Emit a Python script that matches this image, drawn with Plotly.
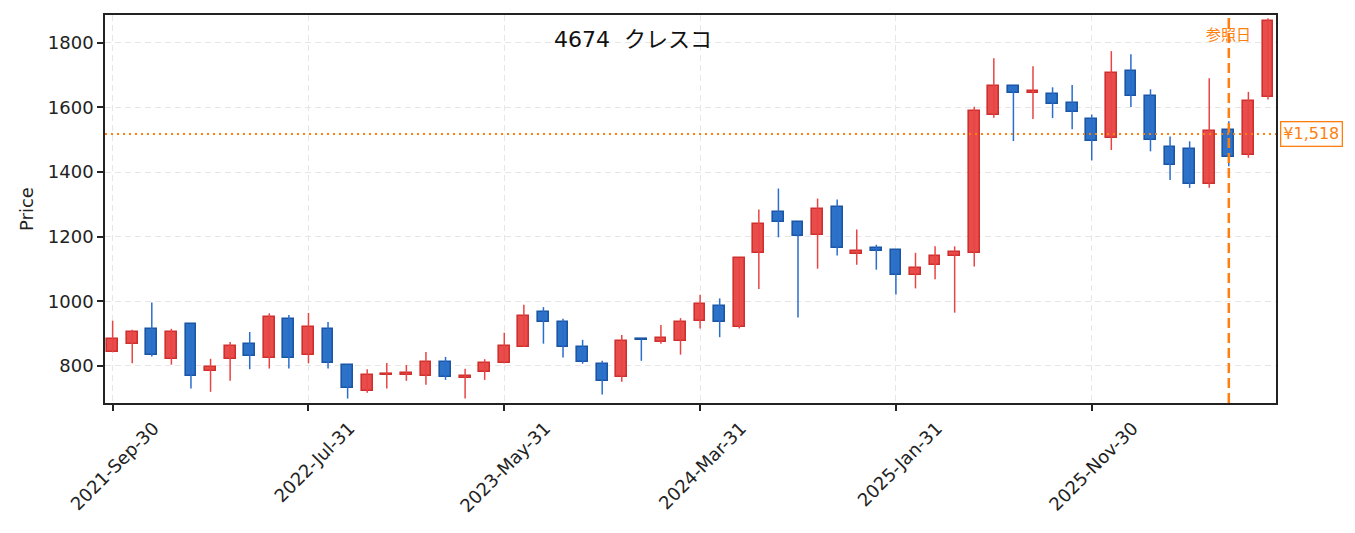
import pandas as pd
import plotly.graph_objects as go

# ---- data ----
dates = [d.strftime("%Y-%b-%d") for d in pd.date_range("2021-09-30", periods=60, freq="ME")]
opens = [843, 867, 914, 822, 929, 785, 822, 867, 825, 944,
         834, 913, 804, 722, 771, 772, 769, 813, 762, 781,
         808, 859, 968, 937, 860, 807, 765, 883, 873, 876,
         939, 987, 922, 1148, 1276, 1244, 1205, 1291, 1147, 1164,
         1158, 1082, 1113, 1141, 1150, 1576, 1667, 1645, 1642, 1615,
         1565, 1504, 1712, 1636, 1477, 1472, 1364, 1529, 1454, 1632]
highs = [940, 912, 996, 915, 929, 822, 874, 905, 963, 958,
         964, 936, 804, 790, 809, 803, 843, 828, 791, 821,
         903, 989, 982, 946, 881, 816, 896, 883, 927, 948,
         1020, 1009, 1133, 1284, 1349, 1244, 1318, 1315, 1222, 1175,
         1158, 1150, 1170, 1170, 1602, 1752, 1667, 1727, 1662, 1669,
         1578, 1774, 1764, 1656, 1510, 1495, 1690, 1557, 1648, 1876]
lows = [842, 808, 829, 804, 730, 720, 754, 790, 792, 792,
        808, 792, 699, 717, 730, 754, 742, 757, 699, 757,
        808, 859, 869, 826, 807, 712, 751, 816, 869, 835,
        916, 889, 916, 1038, 1198, 950, 1101, 1142, 1113, 1098,
        1021, 1040, 1068, 965, 1108, 1568, 1496, 1564, 1567, 1532,
        1436, 1468, 1601, 1464, 1375, 1351, 1351, 1418, 1444, 1624]
closes = [883, 904, 833, 906, 769, 796, 863, 831, 953, 825,
          919, 810, 732, 773, 775, 777, 813, 766, 770, 810,
          863, 956, 935, 859, 812, 753, 878, 880, 885, 937,
          991, 936, 1133, 1239, 1244, 1203, 1285, 1166, 1156, 1156,
          1082, 1103, 1139, 1152, 1589, 1667, 1646, 1650, 1611, 1587,
          1497, 1706, 1634, 1500, 1423, 1364, 1526, 1445, 1619, 1868]
tick_dates = dates[::10]
y_ticks = [800, 1000, 1200, 1400, 1600, 1800]
ref_price = 1518
ref_date = dates[57]
title_text = "4674\u00a0\u00a0クレスコ"
ref_label = "参照日"
price_label = "¥1,518"

# ---- styles ----
UP_FILL, UP_EDGE, UP_WICK = "#e84d4b", "#cf302e", "#e84444"
DN_FILL, DN_EDGE, DN_WICK = "#2c73c8", "#1b55a6", "#2a6dcc"
ORANGE = "#ff7f0e"
FONT = "DejaVu Sans, Noto Sans CJK JP"

up = [i for i in range(len(dates)) if closes[i] >= opens[i]]
dn = [i for i in range(len(dates)) if closes[i] < opens[i]]

def wick_xy(idx):
    xs, ys = [], []
    for i in idx:
        xs += [dates[i], dates[i], None]
        ys += [lows[i], highs[i], None]
    return xs, ys

fig = go.Figure()
for idx, wc in ((up, UP_WICK), (dn, DN_WICK)):
    wx, wy = wick_xy(idx)
    fig.add_trace(go.Scatter(x=wx, y=wy, mode="lines", line=dict(color=wc, width=1.5),
                             hoverinfo="skip", showlegend=False))
for idx, fc, ec in ((up, UP_FILL, UP_EDGE), (dn, DN_FILL, DN_EDGE)):
    fig.add_trace(go.Bar(
        x=[dates[i] for i in idx],
        y=[abs(closes[i] - opens[i]) for i in idx],
        base=[min(opens[i], closes[i]) for i in idx],
        width=0.55,
        marker=dict(color=fc, line=dict(color=ec, width=1.6)),
        showlegend=False))

fig.add_shape(type="line", xref="paper", x0=0, x1=1, yref="y", y0=ref_price, y1=ref_price,
              line=dict(color=ORANGE, width=2, dash="2px,4px"), layer="above")
fig.add_shape(type="line", xref="x", x0=ref_date, x1=ref_date, yref="paper", y0=0, y1=1,
              line=dict(color=ORANGE, width=2.5, dash="10px,5px"), layer="above")

fig.add_annotation(text=title_text, xref="paper", yref="paper", x=0.451, y=0.936,
                   showarrow=False, font=dict(family=FONT, size=22, color="#111"),
                   xanchor="center", yanchor="middle")
fig.add_annotation(text=ref_label, xref="x", yref="paper", x=ref_date, y=0.948,
                   showarrow=False, font=dict(family=FONT, size=15, color=ORANGE),
                   xanchor="center", yanchor="middle")
fig.add_annotation(text=price_label, xref="paper", yref="y", x=1, y=ref_price, xshift=4,
                   showarrow=False, font=dict(family=FONT, size=16, color=ORANGE),
                   xanchor="left", yanchor="middle", bgcolor="white",
                   bordercolor=ORANGE, borderwidth=1.3, borderpad=2)

axis_common = dict(showline=True, mirror=True, linecolor="#222", linewidth=1.5,
                   ticks="outside", ticklen=6, tickwidth=1.5, tickcolor="#222",
                   showgrid=True, gridcolor="#e6e6e6", gridwidth=1.3, griddash="6px,4px",
                   zeroline=False, tickfont=dict(family=FONT, size=18, color="#222"))

fig.update_layout(
    width=1355, height=533,
    margin=dict(l=105, r=79, t=15, b=130),
    paper_bgcolor="white", plot_bgcolor="white",
    barmode="overlay", bargap=0,
    font=dict(family=FONT, color="#222"),
    xaxis=dict(type="category", categoryorder="array", categoryarray=dates,
               range=[-0.39, 59.41], tickmode="array", tickvals=tick_dates, ticktext=tick_dates,
               tickangle=-45, ticklabelshift=41, ticklabelstandoff=0, **axis_common),
    yaxis=dict(range=[685.4, 1885.8], tickmode="array", tickvals=y_ticks,
               title=dict(text="Price", font=dict(family=FONT, size=18, color="#222"), standoff=10),
               **axis_common),
)

fig.write_html("out.html", config={"displayModeBar": False},
               post_script="document.body.style.margin='0';")
